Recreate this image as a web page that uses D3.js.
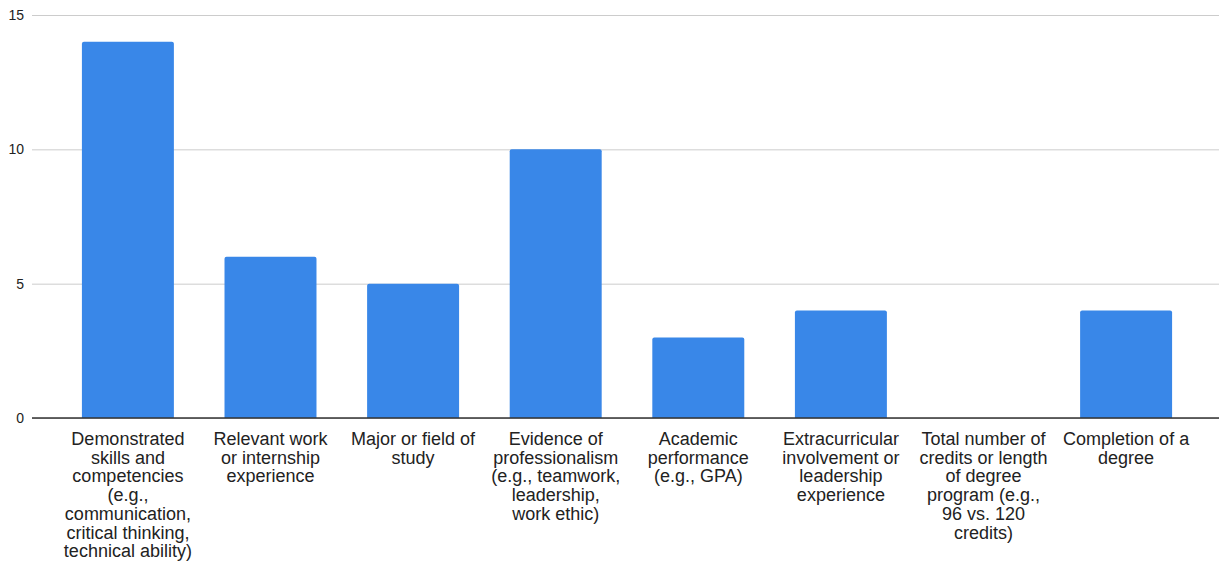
<!DOCTYPE html>
<html>
<head>
<meta charset="utf-8">
<script src="https://cdn.jsdelivr.net/npm/d3@7"></script>
<style>
    body { margin: 0; background: #fff; }
    #chart { width: 1219px; height: 562px; overflow: hidden; }
    .axis--y .tick line { stroke: #cccccc; }
    .axis--y .domain { display: none; }
    .axis--y text { font-family: "Liberation Sans", Arial, sans-serif; font-size: 14px; fill: #222; }
    .axis--x .domain, .axis--x line { display: none; }
    .axis--x text { font-family: "Liberation Sans", Arial, sans-serif; font-size: 18px; fill: #222; }
    .bar { fill: #3987e8; }
    .baseline { stroke: #333; stroke-width: 1.3; }
</style>
</head>
<body>
<div id="chart"></div>
<script>

// category labels, already broken into the lines the reference uses
const categories = [
    "Demonstrated\nskills and\ncompetencies\n(e.g.,\ncommunication,\ncritical thinking,\ntechnical ability)",
    "Relevant work\nor internship\nexperience",
    "Major or field of\nstudy",
    "Evidence of\nprofessionalism\n(e.g., teamwork,\nleadership,\nwork ethic)",
    "Academic\nperformance\n(e.g., GPA)",
    "Extracurricular\ninvolvement or\nleadership\nexperience",
    "Total number of\ncredits or length\nof degree\nprogram (e.g.,\n96 vs. 120\ncredits)",
    "Completion of a\ndegree"
];

const counts = [14, 6, 5, 10, 3, 4, 0, 4];

const yTicks = [0, 5, 10, 15];

class makeBarChart {

    constructor(opts) {
        this.element = opts.element;
        this.categories = opts.categories;
        this.values = opts.values;
        this.data = this.categories.map((c, i) => ({ label: c, value: this.values[i] }));
        this.update();
    }

    _setDimensions() {
        this.margin = {
            top: 15,
            right: -3,
            bottom: 144,
            left: 32
        };

        this.width = 1219 - this.margin.left - this.margin.right;
        this.height = 562 - this.margin.top - this.margin.bottom;
    }

    _setScales() {
        this.xScale = d3.scaleBand()
            .range([0, this.width])
            .paddingInner(0.355)
            .paddingOuter(0.35)
            .domain(this.data.map(d => d.label));

        this.yScale = d3.scaleLinear()
            .range([this.height, 0])
            .domain([0, 15]);

        this.xAxis = d3.axisBottom(this.xScale)
            .tickSize(0)
            .tickPadding(0);

        this.yAxis = d3.axisLeft(this.yScale)
            .tickValues(yTicks)
            .tickSize(-this.width)
            .tickPadding(8)
            .tickFormat(d => `${d}`);
    }

    update() {
        this._setDimensions();
        this._setScales();
        this.draw();
    }

    draw() {
        this.element.innerHTML = "";

        this.svg = d3.select(this.element).append("svg")
            .attr("width", 1219)
            .attr("height", 562);

        this.plot = this.svg.append("g")
            .attr("transform", `translate(${this.margin.left},${this.margin.top})`);

        this.plot.append("g")
            .attr("class", "axis axis--y")
            .call(this.yAxis);

        this.plot.append("g")
            .attr("class", "axis axis--x")
            .attr("transform", `translate(0,${this.height})`)
            .call(this.xAxis);

        // multi-line category labels
        this.plot.selectAll(".axis--x .tick text")
            .each(function(d) {
                let lines = d.split("\n");
                let txt = d3.select(this).text(null)
                    .attr("y", 0)
                    .attr("dy", null);
                lines.forEach((line, i) => {
                    txt.append("tspan")
                        .attr("x", 0)
                        .attr("y", 27 + i * 18.7)
                        .text(line);
                });
            });

        this.drawBars();

        this.plot.append("line")
            .attr("class", "baseline")
            .attr("x1", 0)
            .attr("x2", this.width)
            .attr("y1", this.yScale(0))
            .attr("y2", this.yScale(0));
    }

    drawBars() {
        this.plot.selectAll(".bar")
            .data(this.data.filter(d => d.value > 0))
            .enter().append("path")
            .attr("class", "bar")
            .attr("d", d => {
                let x = this.xScale(d.label);
                let w = this.xScale.bandwidth();
                let y = this.yScale(d.value);
                let y0 = this.yScale(0);
                let r = 2;
                return `M${x},${y0}V${y + r}Q${x},${y} ${x + r},${y}H${x + w - r}Q${x + w},${y} ${x + w},${y + r}V${y0}Z`;
            });
    }
}

new makeBarChart({
    element: document.getElementById("chart"),
    categories: categories,
    values: counts
});

</script>
</body>
</html>
